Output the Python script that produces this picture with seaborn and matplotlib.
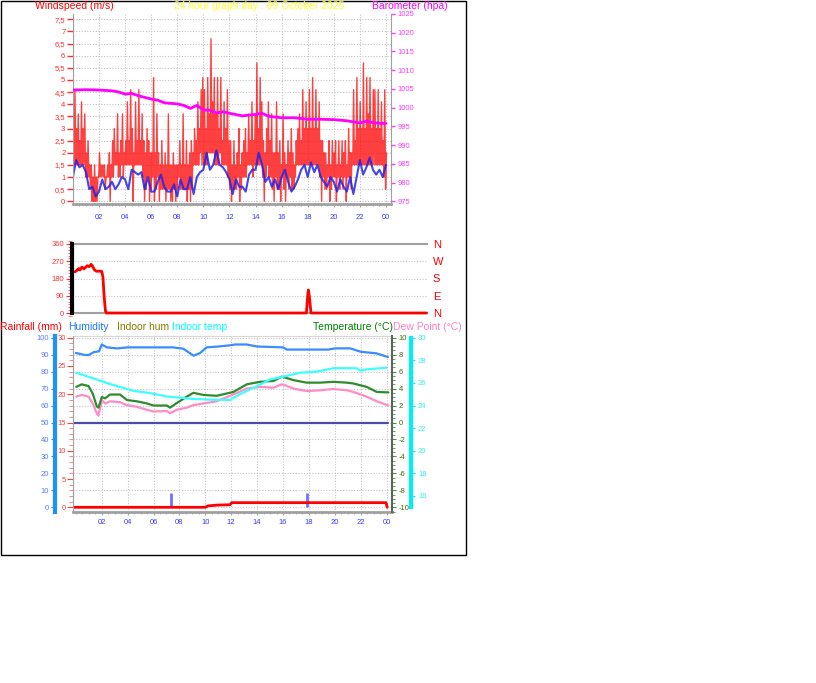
import numpy as np
import matplotlib
matplotlib.use('Agg')
import matplotlib.pyplot as plt
import seaborn as sns
from matplotlib.ticker import FixedLocator, MultipleLocator
from matplotlib.patches import Rectangle

W, H = 816, 683

# ---- data ----
# wind gust (m/s): peak and floor of each 7.5 minute slot, 8 slots per hour
gust_hi = [3.0, 4.6, 3.0, 3.6, 2.5, 4.1, 3.0, 3.6,
           2.0, 2.5, 1.5, 1.5, 1.0, 1.5, 1.0, 1.0,
           2.0, 1.5, 1.5, 1.5, 1.0, 1.5, 2.0, 1.5,
           2.5, 3.0, 2.0, 3.6, 2.0, 2.5, 3.6, 2.0,
           2.5, 4.1, 2.5, 4.6, 3.0, 2.0, 4.1, 2.5,
           4.6, 2.5, 3.6, 2.5, 2.0, 3.0, 2.5, 2.0,
           2.0, 5.1, 2.0, 3.6, 2.0, 1.5, 2.5, 1.5,
           2.0, 1.5, 3.6, 1.5, 1.5, 2.0, 1.5, 1.5,
           1.5, 2.5, 1.5, 3.6, 1.5, 2.5, 1.5, 2.0,
           2.5, 2.0, 3.0, 2.5, 4.1, 3.0, 4.6, 5.1,
           4.6, 3.0, 5.1, 3.6, 6.7, 4.1, 5.1, 3.6,
           5.1, 3.0, 5.1, 2.5, 4.1, 3.0, 4.6, 2.5,
           2.5, 1.5, 2.5, 1.5, 2.0, 3.0, 1.5, 2.0,
           2.5, 3.0, 2.0, 3.6, 2.5, 4.1, 2.5, 3.6,
           5.7, 3.0, 5.1, 4.1, 2.5, 2.0, 3.0, 4.1,
           2.5, 3.6, 2.0, 2.0, 4.1, 2.0, 2.5, 1.5,
           3.6, 2.0, 1.5, 2.5, 2.0, 3.0, 2.0, 1.5,
           2.5, 3.0, 3.6, 2.5, 4.6, 3.0, 4.1, 3.0,
           4.6, 3.0, 5.1, 3.0, 4.6, 3.0, 4.1, 2.5,
           2.5, 2.0, 2.0, 1.5, 2.5, 1.5, 2.5, 2.0,
           2.5, 1.5, 2.5, 1.5, 2.5, 2.0, 2.5, 1.5,
           3.0, 2.0, 2.0, 4.6, 2.5, 5.1, 3.0, 4.1,
           3.0, 5.7, 3.0, 5.1, 3.6, 5.1, 3.0, 4.6,
           4.6, 3.0, 4.6, 3.0, 4.1, 2.5, 4.6, 2.0]
gust_lo = [1.0, 1.5, 1.5, 1.5, 1.5, 1.5, 1.5, 1.5,
           1.0, 1.0, 1.0, 0.5, 0.0, 0.0, 0.0, 0.0,
           1.0, 1.0, 1.0, 1.0, 0.5, 1.0, 1.0, 0.0,
           1.0, 1.0, 1.5, 1.5, 1.0, 1.0, 1.5, 1.0,
           1.5, 1.5, 1.5, 1.5, 1.5, 0.0, 1.5, 1.5,
           1.5, 1.5, 1.5, 1.0, 0.0, 0.5, 1.0, 0.0,
           0.5, 1.0, 0.0, 0.5, 1.0, 0.0, 0.5, 0.5,
           0.5, 0.0, 0.5, 0.5, 0.0, 0.0, 0.5, 0.0,
           0.5, 1.0, 0.5, 0.5, 0.5, 0.5, 0.0, 0.5,
           0.0, 0.5, 1.5, 1.5, 1.5, 1.5, 2.0, 1.5,
           1.5, 1.5, 1.5, 2.0, 2.0, 2.0, 2.0, 1.5,
           1.5, 1.5, 2.0, 1.5, 1.5, 1.5, 1.5, 1.0,
           0.5, 0.0, 0.5, 0.5, 0.5, 1.0, 0.0, 0.5,
           1.0, 1.0, 1.0, 1.5, 1.5, 1.5, 1.0, 1.5,
           1.5, 1.5, 1.5, 1.5, 1.0, 0.0, 1.0, 1.5,
           1.0, 1.0, 0.5, 0.0, 1.0, 0.5, 0.5, 0.0,
           1.0, 0.5, 0.0, 1.0, 0.5, 1.0, 0.5, 0.5,
           1.0, 1.5, 1.5, 1.5, 1.5, 1.5, 1.5, 1.5,
           1.5, 1.5, 1.5, 1.5, 1.5, 1.5, 1.5, 1.0,
           0.0, 1.0, 0.5, 0.5, 1.0, 0.0, 0.5, 1.0,
           1.0, 0.0, 1.0, 0.5, 1.0, 0.5, 1.0, 0.0,
           1.0, 1.0, 0.5, 1.5, 1.5, 1.5, 1.5, 1.5,
           1.5, 1.5, 1.5, 1.5, 1.5, 1.5, 1.5, 1.5,
           1.5, 1.5, 1.5, 1.5, 1.5, 1.5, 1.0, 0.5]

# average wind (m/s), 4 samples per hour
wind_avg = [1.0, 1.7, 1.4, 1.5, 1.2, 0.5, 0.6, 0.2, 0.4, 0.9, 0.5, 0.6,
            0.8, 0.5, 0.7, 1.0, 0.9, 0.5, 1.3, 1.2, 1.1, 1.2, 0.5, 1.0,
            0.4, 0.4, 0.8, 1.1, 0.6, 0.4, 0.4, 0.7, 0.2, 0.9, 0.5, 0.5,
            1.0, 0.3, 1.0, 1.2, 1.3, 2.0, 1.3, 1.5, 2.1, 1.5, 1.4, 1.2,
            0.9, 0.3, 0.9, 0.6, 0.6, 0.4, 1.1, 1.3, 1.3, 2.0, 1.5, 0.8,
            1.0, 0.6, 0.9, 0.5, 1.0, 1.3, 0.8, 0.4, 0.6, 0.9, 1.3, 1.5,
            1.0, 1.6, 1.2, 1.5, 1.0, 0.8, 0.6, 1.0, 0.8, 0.4, 0.9, 0.6,
            0.4, 1.0, 0.3, 1.0, 1.7, 1.1, 1.4, 1.8, 1.3, 1.1, 1.3, 1.0, 1.5]

baro_hours = [0, 1, 2, 3, 3.5, 4, 4.5, 5, 6, 6.5, 7, 8, 8.5, 9, 9.5, 10, 10.5,
              11, 11.5, 12, 13, 14, 14.5, 15, 16, 17, 18, 19, 20, 21, 22, 22.5,
              23, 23.5, 24]
baro = [1004.7, 1004.8, 1004.7, 1004.5, 1004.2, 1003.6, 1003.8, 1003.2,
        1002.3, 1002.0, 1001.3, 1001.0, 1000.6, 999.8, 1000.6, 999.4, 999.3,
        998.6, 998.9, 998.5, 997.8, 998.2, 998.5, 997.7, 997.3, 997.3, 996.9,
        996.9, 996.8, 996.5, 995.9, 996.4, 996.0, 995.8, 995.8]

dir_hours = [0.16, 0.3, 0.45, 0.55, 0.7, 0.85, 1.0, 1.1, 1.25, 1.4, 1.5, 1.65,
             1.8, 2.2, 2.3, 2.4, 2.5, 2.55, 17.9, 18.0, 18.05, 18.12, 18.25, 27.1]
wind_dir = [215, 222, 232, 225, 240, 230, 240, 247, 242, 254, 245, 225,
            218, 218, 190, 80, 10, 0, 0, 90, 120, 90, 0, 0]

hum_hours = [0, 0.7, 1.0, 1.4, 1.8, 2.0, 2.4, 3.2, 4.0, 6.0, 7.5, 8.3, 9.1,
             9.6, 10.1, 11.0, 11.9, 12.3, 13.2, 14.0, 16.0, 16.3, 17.5, 19.5,
             20.0, 21.2, 22.0, 23.2, 24.1]
hum = [91.0, 89.8, 89.8, 91.5, 92.0, 96.0, 94.3, 93.7, 94.3, 94.3, 94.3, 93.5,
       89.4, 91.0, 94.3, 94.8, 95.5, 96.0, 96.0, 94.8, 94.3, 93.0, 93.0, 93.0,
       93.7, 93.7, 91.7, 90.8, 88.6]

temp_hours = [0.03, 0.46, 0.98, 1.31, 1.62, 1.75, 2.01, 2.26, 2.65, 3.42, 3.94,
              4.71, 5.48, 6.0, 7.03, 7.28, 7.8, 8.57, 9.08, 9.86, 10.88, 12.17,
              13.2, 14.23, 15.26, 15.9, 16.16, 16.8, 17.83, 18.86, 19.89, 20.92,
              21.44, 22.46, 23.24, 24.14]
temp = [4.2, 4.5, 4.3, 3.4, 1.9, 1.75, 3.0, 2.85, 3.3, 3.3, 2.65, 2.5, 2.25,
        2.0, 2.0, 1.75, 2.3, 3.05, 3.5, 3.25, 3.15, 3.6, 4.5, 4.8, 4.9, 5.4,
        5.3, 5.0, 4.7, 4.7, 4.8, 4.7, 4.6, 4.2, 3.6, 3.55]
dew = [3.05, 3.25, 3.05, 2.25, 1.1, 0.8, 2.65, 2.25, 2.5, 2.4, 2.05, 1.85, 1.5,
       1.3, 1.35, 1.1, 1.5, 1.75, 2.05, 2.25, 2.5, 3.3, 4.0, 4.2, 4.1, 4.5,
       4.4, 4.0, 3.7, 3.8, 3.95, 3.8, 3.6, 3.05, 2.5, 2.0]

intemp_hours = [0.03, 1.36, 2.65, 4.45, 5.74, 7.03, 8.05, 8.83, 10.88, 11.91,
                12.68, 13.97, 14.99, 16.02, 17.31, 18.6, 19.89, 21.69, 21.95,
                22.46, 24.01]
intemp = [26.9, 26.4, 25.9, 25.3, 25.1, 24.8, 24.7, 24.6, 24.5, 24.5, 25.0,
          25.7, 26.3, 26.55, 26.9, 27.0, 27.3, 27.3, 27.1, 27.2, 27.35]

rain_hours = [-0.1, 10.0, 10.2, 11.0, 11.9, 12.05, 23.95, 24.05]
rain = [0.0, 0.0, 0.25, 0.4, 0.45, 0.82, 0.82, 0.0]
rate_hours = [7.33, 17.83]
rate = [2.5, 2.5]
indoor_hum_hours = [-0.2, 24.1]
indoor_hum = [50, 50]

hour_ticks = [2, 4, 6, 8, 10, 12, 14, 16, 18, 20, 22, 24]
hour_labels = ['02', '04', '06', '08', '10', '12', '14', '16', '18', '20', '22', '00']
wind_ticks = [0, 0.5, 1, 1.5, 2, 2.5, 3, 3.5, 4, 4.5, 5, 5.5, 6, 6.5, 7, 7.5]
wind_labels = ['0', '0,5', '1', '1,5', '2', '2,5', '3', '3,5', '4', '4,5', '5',
               '5,5', '6', '6,5', '7', '7,5']
baro_ticks = [975, 980, 985, 990, 995, 1000, 1005, 1010, 1015, 1020, 1025]
dir_ticks = [0, 90, 180, 270, 360]
dir_names = ['N', 'E', 'S', 'W', 'N']
hum_ticks = [0, 10, 20, 30, 40, 50, 60, 70, 80, 90, 100]
rain_ticks = [0, 5, 10, 15, 20, 25, 30]
temp_ticks = [-10, -8, -6, -4, -2, 0, 2, 4, 6, 8, 10]
intemp_ticks = [16, 18, 20, 22, 24, 26, 28, 30]

# ---- style ----
sns.set_style('white')
plt.rcParams['font.family'] = ['Liberation Sans', 'DejaVu Sans']
plt.rcParams['axes.unicode_minus'] = False
TICK_FS = 5.5
LAB_FS = 7.5
GRID = '#c4c4c4'
FRAME = '#a0a0a0'
HOURCOL = '#3a3aff'

fig = plt.figure(figsize=(W / 100, H / 100), dpi=100)
fig.patch.set_facecolor('white')


def add_ax(l, t, r, b):
    return fig.add_axes([l / W, 1 - b / H, (r - l) / W, (b - t) / H])


def lims(v1, p1, v2, p2, top, bot):
    k = (v2 - v1) / (p2 - p1)
    return v1 + (bot - p1) * k, v1 + (top - p1) * k


def hide(ax, keep=()):
    for s in ['left', 'right', 'top', 'bottom']:
        ax.spines[s].set_visible(s in keep)


def line(ax, x, y, **kw):
    sns.lineplot(x=x, y=y, ax=ax, estimator=None, sort=False, legend=False, **kw)
    ax.set_xlabel('')
    ax.set_ylabel('')


def ftext(x, y, s, color, ha='left'):
    fig.text(x / W, 1 - y / H, s, color=color, fontsize=LAB_FS, ha=ha, va='center')


# ---- top panel: wind + barometer ----
ax_w = add_ax(73, 14, 391, 204)
ax_w.set_facecolor('none')
top_x0, top_k = 72.9, 13.045
ax_w.set_xlim((73 - top_x0) / top_k, (391 - top_x0) / top_k)
ax_w.set_ylim(*lims(7.5, 19.3, 0, 201.3, 14, 204))
for v in wind_ticks:
    ax_w.axhline(v, color=GRID, ls=(0, (1, 1.5)), lw=0.8, zorder=0)
for h in hour_ticks:
    ax_w.axvline(h, color=GRID, ls=(0, (1, 1.5)), lw=0.8, zorder=0)

# each slot drawn as a stroke from its floor up to its peak
slot_t = np.linspace(0, 24, len(gust_hi))
half = 0.5 * (slot_t[1] - slot_t[0])
zig_t = np.column_stack([slot_t - half / 2, slot_t + half / 2]).ravel()
zig_v = np.column_stack([gust_lo, gust_hi]).ravel()
line(ax_w, zig_t, zig_v, color='#ff0000', lw=1.0, alpha=0.75)
line(ax_w, np.linspace(0, 24, len(wind_avg)), wind_avg, color='#2424e6', lw=1.5, alpha=0.85)
ax_w.yaxis.set_major_locator(FixedLocator(wind_ticks))
ax_w.set_yticklabels(wind_labels)
ax_w.set_xticks(hour_ticks)
ax_w.set_xticklabels(hour_labels)
ax_w.xaxis.set_minor_locator(MultipleLocator(0.5))
ax_w.tick_params(axis='y', colors='#ff2a2a', labelsize=TICK_FS, length=4, width=1, pad=1.5, left=True)
ax_w.tick_params(axis='x', which='major', colors=FRAME, labelcolor=HOURCOL, labelsize=TICK_FS,
                 length=2, pad=5, bottom=True)
ax_w.tick_params(axis='x', which='minor', colors=FRAME, length=1.5, bottom=True)
hide(ax_w, ('left', 'bottom', 'right'))
ax_w.spines['bottom'].set_color(FRAME)
ax_w.spines['bottom'].set_linewidth(2)
ax_w.spines['left'].set_color(FRAME)
ax_w.spines['right'].set_color(FRAME)

ax_b = ax_w.twinx()
ax_b.set_ylim(*lims(1025, 14, 975, 201.3, 14, 204))
line(ax_b, baro_hours, baro, color='#ff00ff', lw=2)
ax_b.set_yticks(baro_ticks)
ax_b.tick_params(axis='y', colors='#ff3cff', labelsize=TICK_FS, length=3, width=1, pad=2, right=True)
hide(ax_b)

ftext(35, 6, 'Windspeed (m/s)', '#ff0000')
ftext(259, 6, '24 hour graph day : 09 October 2025', '#ffff22', ha='center')
ftext(372, 6, 'Barometer (hpa)', '#ff00ff')

# ---- middle panel: wind direction ----
ax_d = add_ax(72, 240, 428, 317)
ax_d.set_facecolor('none')
ax_d.set_xlim((72 - top_x0) / top_k, (428 - top_x0) / top_k)
ax_d.set_ylim(*lims(360, 244, 0, 313, 240, 317))
for v in [90, 180, 270]:
    ax_d.axhline(v, color=GRID, ls=(0, (1, 1.5)), lw=0.8, zorder=0)
for v in [0, 360]:
    ax_d.axhline(v, color=FRAME, lw=1.5, zorder=0)
line(ax_d, dir_hours, wind_dir, color='#ff0000', lw=2)
ax_d.set_yticks(dir_ticks)
ax_d.yaxis.set_minor_locator(MultipleLocator(15))
ax_d.set_xticks([])
ax_d.tick_params(axis='y', which='major', colors='#ff3030', labelsize=TICK_FS, length=4, pad=1.5, left=True)
ax_d.tick_params(axis='y', which='minor', colors='#ff6060', length=3, left=True)
hide(ax_d, ('left',))
ax_d.spines['left'].set_color('black')
ax_d.spines['left'].set_linewidth(3)
ax_d.spines['left'].set_bounds(0, 360)

ax_dn = ax_d.twinx()
ax_dn.set_ylim(ax_d.get_ylim())
ax_dn.set_yticks(dir_ticks)
ax_dn.set_yticklabels(dir_names)
ax_dn.tick_params(axis='y', colors='#ff0000', labelsize=8, length=0, pad=3.5, right=True)
hide(ax_dn)

# ---- bottom panel: humidity, rain, temperatures ----
ax_h = add_ax(73, 336, 392, 512)
ax_h.set_facecolor('none')
bot_x0, bot_k = 75.8, 12.95
ax_h.set_xlim((73 - bot_x0) / bot_k, (392 - bot_x0) / bot_k)
ax_h.set_ylim(*lims(100, 337.7, 0, 507.3, 336, 512))
for v in hum_ticks:
    ax_h.axhline(v, color=GRID, ls=(0, (1, 1.5)), lw=0.8, zorder=0)
for h in hour_ticks:
    ax_h.axvline(h, color=GRID, ls=(0, (1, 1.5)), lw=0.8, zorder=0)
line(ax_h, indoor_hum_hours, indoor_hum, color='#4b4ba8', lw=1.6)
line(ax_h, hum_hours, hum, color='#3a8cff', lw=1.6)
ax_h.set_yticks(hum_ticks)
ax_h.set_xticks(hour_ticks)
ax_h.set_xticklabels(hour_labels)
ax_h.xaxis.set_minor_locator(MultipleLocator(0.5))
ax_h.tick_params(axis='y', colors='#1e90ff', labelcolor='#5a7cff', labelsize=TICK_FS,
                 length=3, pad=1, left=True)
ax_h.tick_params(axis='x', which='major', colors=FRAME, labelcolor=HOURCOL, labelsize=TICK_FS,
                 length=2, pad=3, bottom=True)
ax_h.tick_params(axis='x', which='minor', colors=FRAME, length=1.5, bottom=True)
hide(ax_h, ('left', 'bottom', 'top'))
ax_h.spines['left'].set_position(('outward', 13.3))
ax_h.spines['left'].set_color('#1e90ff')
ax_h.spines['left'].set_linewidth(3)
ax_h.spines['bottom'].set_color(FRAME)
ax_h.spines['bottom'].set_linewidth(2)
ax_h.spines['top'].set_color('#d8d8d8')

ax_t = ax_h.twinx()
ax_t.set_ylim(*lims(10, 337.7, -10, 507.3, 336, 512))
line(ax_t, temp_hours, dew, color='#ff8cc6', lw=1.6)
line(ax_t, temp_hours, temp, color='#2e8b2e', lw=1.6)
ax_t.set_yticks(temp_ticks)
ax_t.yaxis.set_minor_locator(MultipleLocator(0.5))
ax_t.tick_params(axis='y', which='major', colors='#3c9a3c', labelcolor='#3f6f00',
                 labelsize=TICK_FS, length=3, pad=2, right=True)
ax_t.tick_params(axis='y', which='minor', colors='#3c9a3c', length=2, right=True)
hide(ax_t, ('right',))
ax_t.spines['right'].set_color('#606060')
ax_t.spines['right'].set_linewidth(1.5)

ax_i = ax_h.twinx()
ax_i.set_ylim(*lims(30, 337.7, 15, 507.3, 336, 512))
line(ax_i, intemp_hours, intemp, color='#3cffff', lw=1.6)
ax_i.set_yticks(intemp_ticks)
ax_i.yaxis.set_minor_locator(MultipleLocator(0.5))
ax_i.tick_params(axis='y', which='major', colors='#20e8e8', labelcolor='#30f0f0',
                 labelsize=TICK_FS, length=3, pad=2, right=True)
ax_i.tick_params(axis='y', which='minor', colors='#20e8e8', length=1.5, right=True)
hide(ax_i, ('right',))
ax_i.spines['right'].set_position(('outward', 13.7))
ax_i.spines['right'].set_color('#00f0f0')
ax_i.spines['right'].set_linewidth(3)
ax_i.spines['right'].set_bounds(15, 30)

ax_r = ax_h.twinx()
ax_r.set_ylim(*lims(30, 337.7, 0, 507.3, 336, 512))
ax_r.vlines(rate_hours, 0, rate, color='#7070ff', lw=2)
line(ax_r, rain_hours, rain, color='#ff0000', lw=2)
ax_r.yaxis.tick_left()
ax_r.set_yticks(rain_ticks)
ax_r.yaxis.set_minor_locator(MultipleLocator(1))
ax_r.tick_params(axis='y', which='major', colors='#ff4040', labelsize=TICK_FS, length=4,
                 pad=1, left=True, right=False)
ax_r.tick_params(axis='y', which='minor', colors='#ff7070', length=3, left=True, right=False)
hide(ax_r, ('left',))
ax_r.spines['left'].set_color(FRAME)

ftext(0, 327, 'Rainfall (mm)', '#ff0000')
ftext(68, 327, 'Humidity', '#1e78ff')
ftext(117, 327, 'Indoor hum', '#808000')
ftext(172, 327, 'Indoor temp', '#00ffff')
ftext(313, 327, 'Temperature (°C)', '#008000')
ftext(393, 327, 'Dew Point (°C)', '#ff80c0')

# outer frame
fig.patches.append(Rectangle((0.5 / W, 1 - 554.5 / H), 465 / W, 554 / H,
                             transform=fig.transFigure, fill=False, ec='black', lw=1))

fig.savefig('out.png', dpi=100)
